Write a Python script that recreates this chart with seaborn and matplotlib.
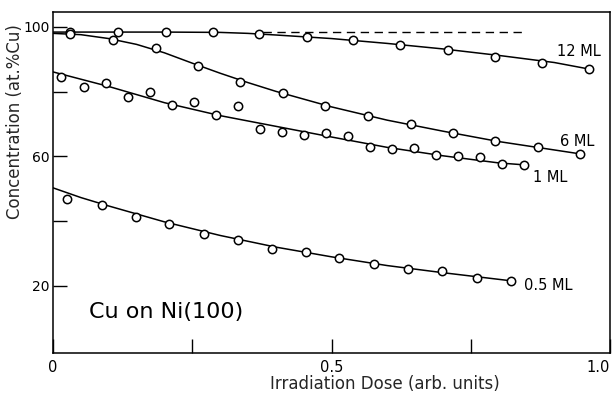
import matplotlib
matplotlib.use("Agg")
import matplotlib.pyplot as plt
import seaborn as sns
import numpy as np
import pandas as pd

# ---- measured points ----
x_12 = [0.031, 0.117, 0.203, 0.287, 0.370, 0.456, 0.539, 0.623, 0.709, 0.794, 0.878, 0.962]
y_12 = [98.3, 98.3, 98.5, 98.3, 97.7, 96.9, 96.0, 94.4, 92.9, 90.7, 88.7, 87.0]

x_6 = [0.031, 0.108, 0.185, 0.260, 0.336, 0.413, 0.488, 0.566, 0.643, 0.718, 0.794, 0.871, 0.946]
y_6 = [97.8, 96.0, 93.5, 88.0, 83.0, 79.6, 75.6, 72.5, 70.1, 67.3, 64.8, 63.0, 60.8]

x_1 = [0.014, 0.056, 0.095, 0.135, 0.174, 0.214, 0.253, 0.293, 0.332, 0.372, 0.411,
       0.451, 0.490, 0.530, 0.569, 0.609, 0.648, 0.688, 0.727, 0.767, 0.806, 0.846]
y_1 = [84.6, 81.5, 82.7, 78.4, 79.9, 75.9, 76.9, 72.8, 75.6, 68.5, 67.6,
       66.7, 67.3, 66.4, 63.0, 62.3, 62.7, 60.5, 60.2, 59.9, 57.7, 57.4]

x_05 = [0.025, 0.088, 0.149, 0.208, 0.271, 0.332, 0.393, 0.454, 0.513, 0.576, 0.637, 0.698, 0.761, 0.822]
y_05 = [46.9, 45.1, 41.4, 39.2, 36.1, 34.3, 31.5, 30.6, 28.7, 26.9, 25.3, 24.7, 22.5, 21.6]

# ---- fitted curves ----
cx_12 = [0, 0.1, 0.2, 0.3, 0.35, 0.4, 0.5, 0.6, 0.7, 0.8, 0.9, 0.962]
cy_12 = [98.4, 98.4, 98.4, 98.3, 98.0, 97.5, 96.4, 94.9, 93.2, 91.2, 89.0, 87.0]

cx_6 = [0, 0.05, 0.1, 0.15, 0.2, 0.25, 0.3, 0.35, 0.4, 0.5, 0.6, 0.7, 0.8, 0.9, 0.946]
cy_6 = [98.0, 97.6, 96.4, 94.6, 92.0, 88.8, 85.7, 82.8, 80.1, 75.3, 71.2, 67.8, 64.6, 62.0, 60.8]

cx_1 = [0, 0.1, 0.2, 0.3, 0.4, 0.5, 0.6, 0.7, 0.8, 0.846]
cy_1 = [86.1, 81.6, 76.6, 72.6, 69.3, 66.0, 62.8, 60.2, 58.0, 57.4]

cx_05 = [0, 0.05, 0.1, 0.2, 0.3, 0.4, 0.5, 0.6, 0.7, 0.822]
cy_05 = [50.3, 47.3, 44.7, 39.8, 35.6, 32.0, 29.0, 26.3, 24.1, 21.6]

dash_x = [0.377, 0.842]
dash_y = [98.4, 98.4]

labels = ["12 ML", "6 ML", "1 ML", "0.5 ML"]
label_pos = [(0.905, 92.3), (0.91, 64.5), (0.862, 53.4), (0.845, 20.0)]

x_ticks = [0, 0.5, 1.0]
x_tick_labels = ["0", "0.5", "1.0"]
x_minor = [0.25, 0.75]
y_ticks = [20, 60, 100]
y_minor = [40, 80]

sns.set_theme(style="ticks")
plt.rcParams['font.family'] = ['DejaVu Sans']

fig = plt.figure(figsize=(6.15, 3.93), dpi=100)
ax = fig.add_axes([53/615, 1-353/393, (610-53)/615, (353-12)/393])

line_kw = dict(color="black", linewidth=1.1, ax=ax, legend=False, sort=False, estimator=None)
for cx, cy in [(cx_12, cy_12), (cx_6, cy_6), (cx_1, cy_1), (cx_05, cy_05)]:
    sns.lineplot(x=cx, y=cy, **line_kw)

ax.plot(dash_x, dash_y, color="black", linewidth=1.0, dashes=(6, 4))

for px, py in [(x_12, y_12), (x_6, y_6), (x_1, y_1), (x_05, y_05)]:
    sns.scatterplot(x=px, y=py, ax=ax, s=36, facecolor="white", edgecolor="black",
                    linewidth=1.1, zorder=3, legend=False)

for lab, (lx, ly) in zip(labels, label_pos):
    ax.text(lx, ly, lab, fontsize=10.5, ha="left", va="center", color="black")

ax.text(0.065, 12.0, "Cu on Ni(100)", fontsize=16, ha="left", va="center", color="black")

ax.set_xlim(0, 1.0)
ax.set_ylim(-0.7, 104.6)
ax.set_xticks(x_ticks)
ax.set_xticklabels(x_tick_labels)
ax.set_xticks(x_minor, minor=True)
ax.set_yticks(y_ticks)
ax.set_yticks(y_minor, minor=True)
ax.tick_params(axis="both", which="both", direction="in", length=10, width=1.0,
               labelsize=10.5, colors="black", pad=5)
ax.tick_params(axis="y", which="major", labelsize=10, pad=2.5)
ax.get_xticklabels()[-1].set_ha("right")
for s in ax.spines.values():
    s.set_visible(True)
    s.set_linewidth(1.1)
    s.set_color("black")
ax.set_xlabel("")
ax.set_ylabel("")

fig.text(385/615, 1-384/393, "Irradiation Dose (arb. units)", fontsize=12,
         ha="center", va="center")
fig.text(15/615, 1-122/393, "Concentration (at.%Cu)", fontsize=12,
         ha="center", va="center", rotation=90)

fig.savefig("out.png", dpi=100, facecolor="white")
